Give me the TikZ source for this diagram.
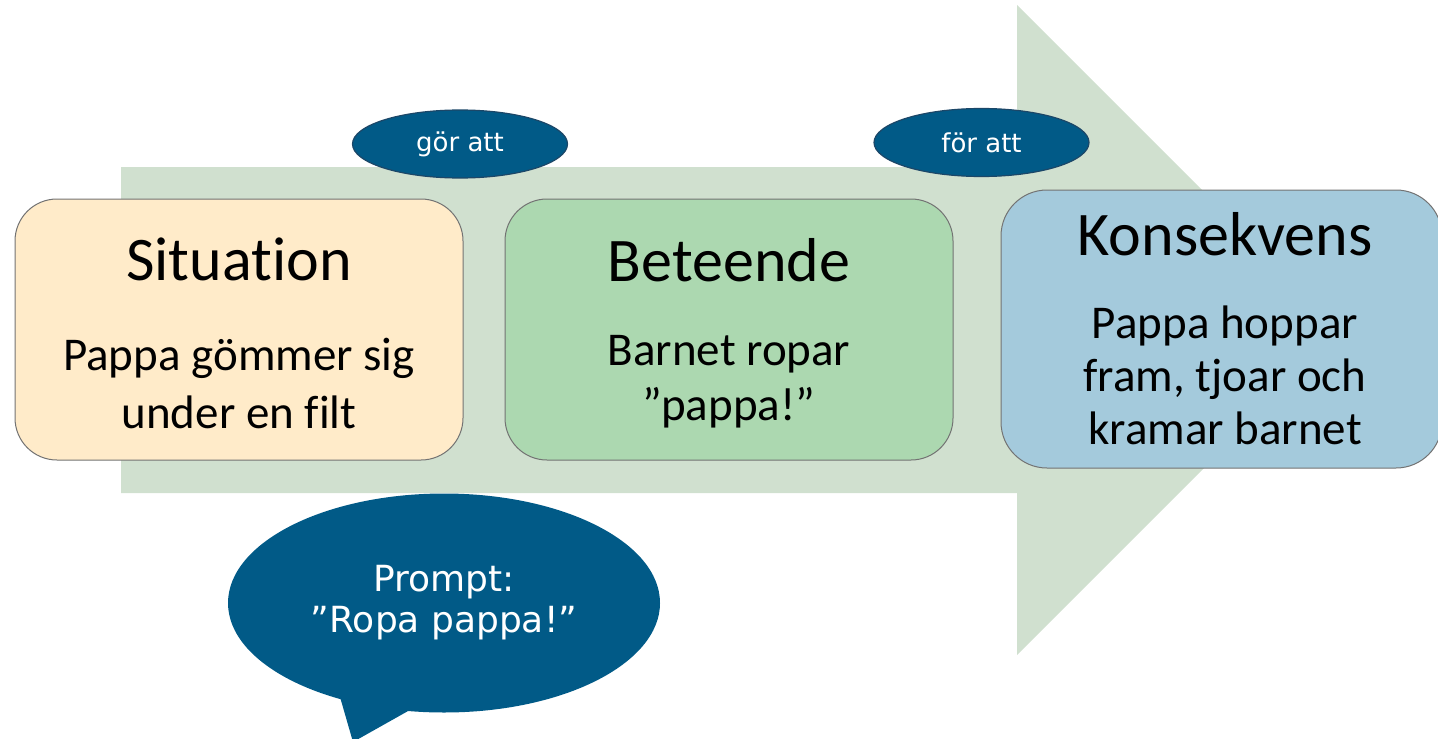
\documentclass[tikz,border=0pt]{standalone}
\usepackage{fontspec}
\setmainfont{Carlito}[Ligatures=NoCommon]
\newfontfamily\bubblefont{DejaVu Sans}
\usetikzlibrary{positioning,shapes.geometric}
\definecolor{arrowgreen}{HTML}{D0E0CF}
\definecolor{sitfill}{HTML}{FFEBC9}
\definecolor{betfill}{HTML}{ACD8B0}
\definecolor{konfill}{HTML}{A4CADC}
\definecolor{darkblue}{HTML}{015A87}
\definecolor{darkrim}{HTML}{1C4768}
\tikzset{
    %Define style for boxes
    box/.style={
           rectangle,
           rounded corners=21pt,
           draw=black!55, line width=0.5pt,
           inner sep=0pt},
    % Define style for texts in the boxes
    title/.style={
           font=\fontsize{31}{36}\selectfont,
           anchor=base, inner sep=0pt},
    body/.style={
           font=\fontsize{23.5}{28}\selectfont,
           align=center, anchor=base, inner sep=0pt},
    % Define style for the small ovals
    link/.style={
           ellipse,
           draw=darkrim, line width=0.6pt,
           fill=darkblue,
           text=white,
           font=\bubblefont\fontsize{13}{15}\selectfont,
           minimum width=107.5pt,
           minimum height=34pt,
           inner sep=0pt},
    bubble/.style={
           ellipse,
           fill=darkblue,
           text=white,
           align=center,
           font=\bubblefont\fontsize{18}{20.5}\selectfont,
           minimum width=216pt,
           minimum height=109.5pt,
           inner sep=0pt}
}
\begin{document}
\begin{tikzpicture}[x=0.5pt,y=-0.5pt]
\useasboundingbox (0,0) rectangle (1438,738);
% big arrow behind
\fill[arrowgreen] (121,167) -- (1017,167) -- (1017,5) -- (1342,330)
    -- (1017,655) -- (1017,493) -- (121,493) -- cycle;
% boxes
\node[box, fill=sitfill, minimum width=224pt, minimum height=130.5pt] (sit) at (239,329.5) {};
\node[box, fill=betfill, minimum width=224pt, minimum height=130.5pt] (bet) at (729,329.5) {};
\node[box, fill=konfill, minimum width=220.5pt, minimum height=139pt, rounded corners=23pt] (kon) at (1221.5,329) {};
% texts (base = last line)
\node[title] (sittitle) at (239,280) {Situation};
\node[body, font=\fontsize{23.5}{29}\selectfont] (sitbody) at (239,428) {Pappa gömmer sig\\under en filt};
\node[title] (bettitle) at (729,281) {Beteende};
\node[body, font=\fontsize{23.5}{27.5}\selectfont] (betbody) at (729,420) {Barnet ropar\\”pappa!”};
\node[title] (kontitle) at (1225,255) {Konsekvens};
\node[body, font=\fontsize{23.5}{26.5}\selectfont] (konbody) at (1225,444) {Pappa hoppar\\fram, tjoar och\\kramar barnet};
% links
\node[link] (gor) at (460,144) {gör att};
\node[link] (for) at (981.5,142.5) {för att};
% prompt bubble
\fill[darkblue] (338,690) -- (353,742) -- (417,706) -- cycle;
\node[bubble] (prompt) at (444,603) {Prompt:\\”Ropa pappa!”};
\end{tikzpicture}
\end{document}
